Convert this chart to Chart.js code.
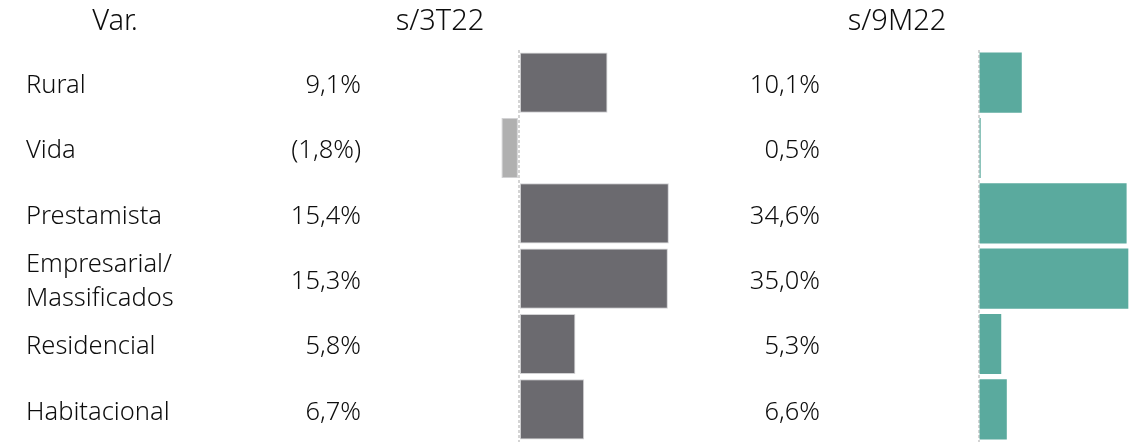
<!DOCTYPE html>
<html>
<head>
<meta charset="utf-8">
<script src="https://cdn.jsdelivr.net/npm/chart.js@4.4.0/dist/chart.umd.min.js"></script>
<style>
  body { margin: 0; background: #fff; }
  #wrap { position: relative; width: 1148px; height: 444px; }
  canvas { position: absolute; top: 0; }
</style>
</head>
<body>
<div id="wrap">
  <canvas id="left" width="700" height="444" style="left:0"></canvas>
  <canvas id="right" width="448" height="444" style="left:700px"></canvas>
</div>
<script>
// data
const categories = ['Rural', 'Vida', 'Prestamista', ['Empresarial/', 'Massificados'], 'Residencial', 'Habitacional'];
const var3T22 = [9.1, -1.8, 15.4, 15.3, 5.8, 6.7];
const var9M22 = [10.1, 0.5, 34.6, 35.0, 5.3, 6.6];
const headers = ['Var.', 's/3T22', 's/9M22'];

const FONT = '"Noto Sans", sans-serif';
const TXT = '#0d0d0d';

fmt = function(v){
  var s = Math.abs(v).toFixed(1).replace('.', ',') + '%';
  return v < 0 ? '(' + s + ')' : s;
}

zeroGrid = {
  display: true,
  drawTicks: false,
  lineWidth: 2,
  color: (c) => (c.tick && c.tick.value === 0) ? '#d4d4d4' : 'rgba(0,0,0,0)'
};

textPlugin = function(which){
  return {
    id: 'txt_' + which,
    afterDraw(chart){
      const ctx = chart.ctx;
      const y = chart.scales.y;
      ctx.save();
      ctx.fillStyle = TXT;
      ctx.textBaseline = 'middle';
      ctx.font = '300 29px ' + FONT;
      ctx.textAlign = 'center';
      if (which === 'left') {
        ctx.fillText(headers[0], 115, 22);
        ctx.fillText(headers[1], 440, 22);
      } else {
        ctx.fillText(headers[2], 197, 22);
      }
      ctx.font = '300 25.5px ' + FONT;
      for (var i = 0; i < categories.length; i++) {
        const cy = y.getPixelForValue(i);
        if (which === 'left') {
          ctx.textAlign = 'left';
          const lab = categories[i];
          if (Array.isArray(lab)) {
            ctx.fillText(lab[0], 26, cy - 14);
            ctx.fillText(lab[1], 26, cy + 20);
          } else {
            ctx.fillText(lab, 26, cy + 3);
          }
          ctx.textAlign = 'right';
          ctx.fillText(fmt(var3T22[i]), 361, cy + 3);
        } else {
          ctx.textAlign = 'right';
          ctx.fillText(fmt(var9M22[i]), 120, cy + 3);
        }
      }
      ctx.restore();
    }
  };
}

makeChart = function(id, values, colors, border, xmin, xmax, padLeft){
  return new Chart(document.getElementById(id), {
    type: 'bar',
    data: {
      labels: categories,
      datasets: [{
        data: values,
        backgroundColor: colors,
        borderColor: border,
        borderWidth: border ? 1 : 0,
        borderSkipped: false,
        barPercentage: 0.92,
        categoryPercentage: 1
      }]
    },
    options: {
      indexAxis: 'y',
      responsive: false,
      animation: false,
      layout: { padding: { left: padLeft, right: 0, top: 50, bottom: 2 } },
      plugins: { legend: { display: false }, tooltip: { enabled: false } },
      scales: {
        x: {
          min: xmin, max: xmax,
          afterBuildTicks: (s) => { s.ticks = [{ value: 0 }]; },
          ticks: { display: false },
          grid: zeroGrid,
          border: { display: false, dash: [3, 2] }
        },
        y: { display: false }
      }
    },
    plugins: [textPlugin(id)]
  });
}

makeChart('left', var3T22,
  var3T22.map(v => v < 0 ? '#b0b0b0' : '#6b6a6f'), '#d2d2d4', -4, 18.6, 480);
makeChart('right', var9M22,
  var9M22.map(v => '#5aaa9e'), null, -2, 39.6, 270);
</script>
</body>
</html>
